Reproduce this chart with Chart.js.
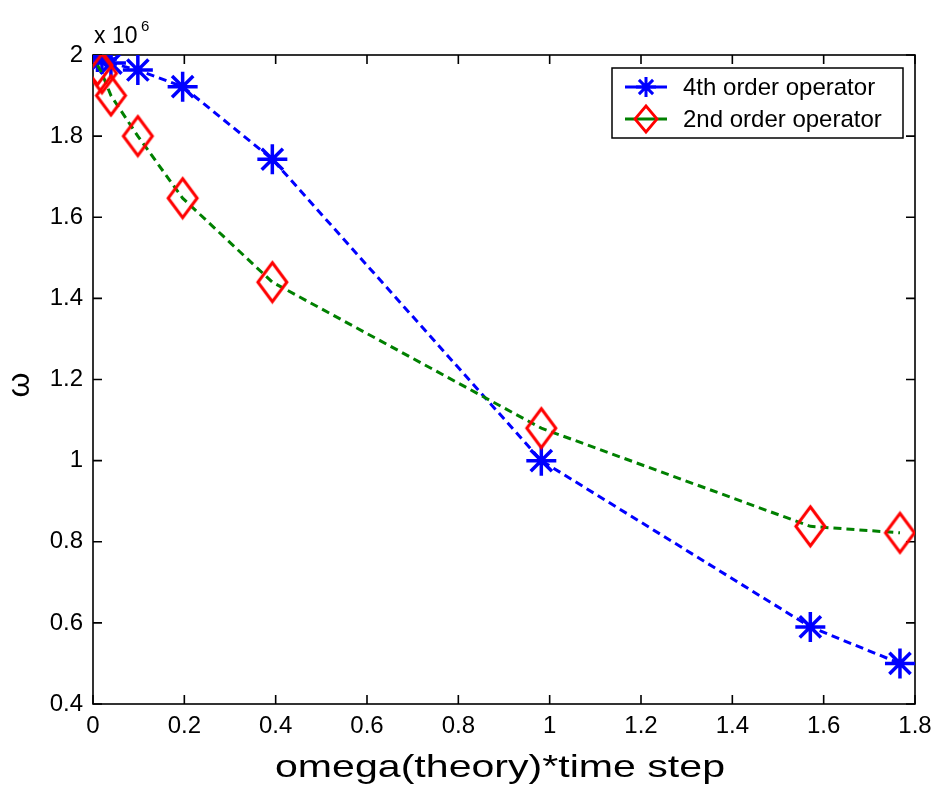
<!DOCTYPE html>
<html>
<head>
<meta charset="utf-8">
<title>omega vs time step</title>
<script src="https://cdn.jsdelivr.net/npm/chart.js@4.4.0/dist/chart.umd.min.js"></script>
<style>
  html, body { margin: 0; padding: 0; background: #fff; }
  #wrap { width: 936px; height: 787px; }
</style>
</head>
<body>
<div id="wrap"><canvas id="omegaChart" width="936" height="787"></canvas></div>
<script>
// omega(theory)*time step for each run
const stepValues = [0.0098, 0.0196, 0.0393, 0.0982, 0.1963, 0.3927, 0.9817, 1.5708, 1.7671];
// measured omega, in units of 10^6
const fourthOrder = [1.995, 1.99, 1.98, 1.963, 1.922, 1.743, 1.0, 0.59, 0.50];
const secondOrder = [1.975, 1.955, 1.90, 1.80, 1.647, 1.44, 1.08, 0.838, 0.822];
const seriesNames = ['4th order operator', '2nd order operator'];
const xTicks = { min: 0, max: 1.8, step: 0.2 };
const yTicks = { min: 0.4, max: 2, step: 0.2 };

const FONT = "'Liberation Sans', Arial, sans-serif";

function toPoints(ys) {
    return stepValues.map((x, i) => ({ x: x, y: ys[i] }));
}

// open diamond marker, a bit taller than wide
function diamond(w, h, lw) {
    const c = document.createElement('canvas');
    c.width = w; c.height = h;
    const g = c.getContext('2d');
    const p = lw;
    g.strokeStyle = '#ff0000';
    g.lineWidth = lw;
    g.lineJoin = 'miter';
    g.beginPath();
    g.moveTo(w / 2, p);
    g.lineTo(w - p, h / 2);
    g.lineTo(w / 2, h - p);
    g.lineTo(p, h / 2);
    g.closePath();
    g.stroke();
    return c;
}
const bigDiamond = diamond(35, 45, 3);

function fmt(v) {
    return String(Math.round(v * 10) / 10);
}

function drawStar(ctx, cx, cy, s) {
    const d = s * Math.SQRT1_2;
    ctx.beginPath();
    ctx.moveTo(cx - s, cy); ctx.lineTo(cx + s, cy);
    ctx.moveTo(cx, cy - s); ctx.lineTo(cx, cy + s);
    ctx.moveTo(cx - d, cy - d); ctx.lineTo(cx + d, cy + d);
    ctx.moveTo(cx - d, cy + d); ctx.lineTo(cx + d, cy - d);
    ctx.stroke();
}

const frame = {
    id: 'frame',
    beforeDatasetsDraw(chart) {
        const { ctx, chartArea: a, scales: { x, y } } = chart;
        const tl = 9;
        ctx.save();
        ctx.strokeStyle = '#000';
        ctx.lineWidth = 1.6;
        ctx.strokeRect(a.left, a.top, a.right - a.left, a.bottom - a.top);
        ctx.beginPath();
        x.ticks.forEach(t => {
            const px = x.getPixelForValue(t.value);
            ctx.moveTo(px, a.bottom); ctx.lineTo(px, a.bottom - tl);
            ctx.moveTo(px, a.top); ctx.lineTo(px, a.top + tl);
        });
        y.ticks.forEach(t => {
            const py = y.getPixelForValue(t.value);
            ctx.moveTo(a.left, py); ctx.lineTo(a.left + tl, py);
            ctx.moveTo(a.right, py); ctx.lineTo(a.right - tl, py);
        });
        ctx.stroke();
        ctx.restore();
    },
    afterDraw(chart) {
        const { ctx, chartArea: a } = chart;
        ctx.save();
        ctx.fillStyle = '#000';

        // exponent above the y axis
        ctx.textBaseline = 'alphabetic';
        ctx.textAlign = 'left';
        ctx.font = '23px ' + FONT;
        ctx.fillText('x 10', a.left + 1, 43);
        ctx.font = '15px ' + FONT;
        ctx.fillText('6', a.left + 48, 31);

        // x axis title (wide lettering)
        ctx.save();
        ctx.font = '32px ' + FONT;
        const title = 'omega(theory)*time step';
        const tw = ctx.measureText(title).width;
        const sx = 450 / tw;
        ctx.translate(500, 777);
        ctx.scale(sx, 1);
        ctx.textAlign = 'center';
        ctx.fillText(title, 0, 0);
        ctx.restore();

        // y axis title
        ctx.save();
        ctx.translate(20, 385);
        ctx.rotate(-Math.PI / 2);
        ctx.font = '32px ' + FONT;
        ctx.textAlign = 'center';
        ctx.textBaseline = 'middle';
        ctx.fillText('\u03c9', 0, 0);
        ctx.restore();

        // legend box in the upper right corner
        const lx = 612, ly = 68, lw = 291, lh = 70;
        ctx.fillStyle = '#fff';
        ctx.fillRect(lx, ly, lw, lh);
        ctx.strokeStyle = '#000';
        ctx.lineWidth = 1.5;
        ctx.strokeRect(lx, ly, lw, lh);

        const rows = [
            { y: 87, line: '#0000ff', name: seriesNames[0], mark: 'star' },
            { y: 119, line: '#008000', name: seriesNames[1], mark: 'diamond' }
        ];
        rows.forEach(r => {
            ctx.strokeStyle = r.line;
            ctx.lineWidth = 3;
            ctx.beginPath();
            ctx.moveTo(625, r.y); ctx.lineTo(667, r.y);
            ctx.stroke();
            if (r.mark === 'star') {
                ctx.lineWidth = 3;
                drawStar(ctx, 646, r.y, 10);
            } else {
                ctx.strokeStyle = '#ff0000';
                ctx.lineWidth = 2.8;
                ctx.beginPath();
                ctx.moveTo(646, r.y - 13); ctx.lineTo(657, r.y);
                ctx.lineTo(646, r.y + 13); ctx.lineTo(635, r.y);
                ctx.closePath();
                ctx.stroke();
            }
            ctx.fillStyle = '#000';
            ctx.font = '24px ' + FONT;
            ctx.textAlign = 'left';
            ctx.textBaseline = 'middle';
            ctx.fillText(r.name, 683, r.y + 1);
        });
        ctx.restore();
    }
};

const ctx = document.getElementById('omegaChart').getContext('2d');
const chart = new Chart(ctx, {
    type: 'scatter',
    data: {
        datasets: [
            {
                label: seriesNames[0],
                data: toPoints(fourthOrder),
                showLine: true,
                borderColor: '#0000ff',
                borderWidth: 3,
                borderDash: [8, 5],
                pointStyle: 'star',
                pointRadius: 15,
                pointBorderWidth: 3.5,
                pointBorderColor: '#0000ff',
                pointBackgroundColor: '#0000ff',
                order: 1
            },
            {
                label: seriesNames[1],
                data: toPoints(secondOrder),
                showLine: true,
                borderColor: '#008000',
                borderWidth: 3,
                borderDash: [8, 5],
                pointStyle: bigDiamond,
                pointRadius: 17,
                pointBorderColor: '#ff0000',
                order: 0
            }
        ]
    },
    options: {
        responsive: false,
        animation: false,
        events: [],
        layout: { padding: { left: 0, right: 21, top: 55, bottom: 0 } },
        plugins: {
            legend: { display: false },
            tooltip: { enabled: false }
        },
        scales: {
            x: {
                type: 'linear',
                min: xTicks.min,
                max: xTicks.max,
                grid: { display: false },
                border: { display: false },
                afterFit: s => { s.height = 83; },
                ticks: {
                    stepSize: xTicks.step,
                    maxRotation: 0,
                    autoSkip: false,
                    padding: 0,
                    color: '#000',
                    font: { family: FONT, size: 24 },
                    callback: v => fmt(v)
                }
            },
            y: {
                type: 'linear',
                min: yTicks.min,
                max: yTicks.max,
                grid: { display: false },
                border: { display: false },
                afterFit: s => { s.width = 93; },
                ticks: {
                    stepSize: yTicks.step,
                    autoSkip: false,
                    padding: 2,
                    color: '#000',
                    font: { family: FONT, size: 24 },
                    callback: v => fmt(v)
                }
            }
        }
    },
    plugins: [frame]
});
</script>
</body>
</html>
